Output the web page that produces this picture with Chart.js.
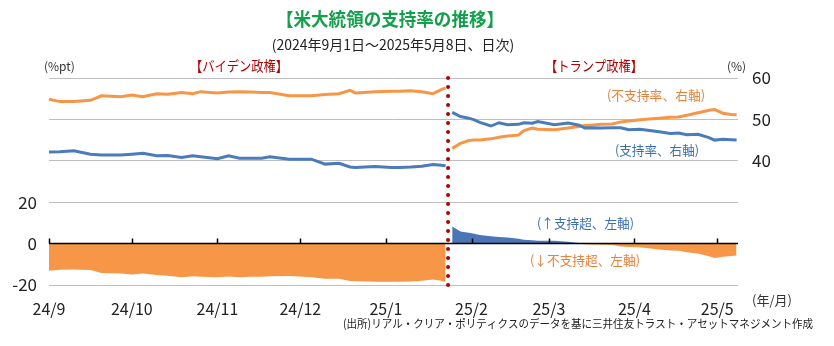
<!DOCTYPE html>
<html>
<head>
<meta charset="utf-8">
<script src="https://cdn.jsdelivr.net/npm/chart.js@4/dist/chart.umd.min.js"></script>
<style>
  html, body { margin: 0; padding: 0; background: #fff; }
  #wrap { width: 834px; height: 346px; position: relative; }
</style>
</head>
<body>
<div id="wrap"><canvas id="approvalChart"></canvas></div>
<script>
// days counted from 2024/9/1, null = break at the change of administration
const days = [0, 4, 9, 15, 19, 26, 30, 34, 39, 43, 48, 52, 55, 61, 65, 69, 73, 77, 80, 87,
    89, 95, 100, 105, 109, 111, 118, 124, 127, 131, 135, 139, 142, 143.6,
    144.5,
    146, 149, 152, 154, 156, 160, 163, 166, 170, 172, 175, 177, 183, 188, 192, 194, 196, 200, 204, 207,
    210, 214, 221, 225, 228, 231, 235, 239, 241, 244, 247, 249];

// 支持率 (%)
const support = [42.1, 42.2, 42.4, 41.6, 41.4, 41.4, 41.6, 41.8, 41.2, 41.3, 40.8, 41.2, 41.0, 40.5, 41.2, 40.6, 40.6, 40.6, 41.0, 40.4,
    40.4, 40.4, 39.2, 39.4, 38.5, 38.4, 38.6, 38.4, 38.4, 38.5, 38.7, 39.1, 38.9, 38.8,
    null,
    51.7, 50.7, 50.3, 49.9, 49.3, 48.4, 49.2, 48.7, 48.8, 49.2, 49.1, 49.5, 48.7, 49.1, 48.6, 47.9, 48.0, 47.9, 48.0, 48.0,
    47.5, 47.6, 47.0, 46.6, 46.7, 46.3, 46.4, 45.6, 45.0, 45.2, 45.1, 45.0];

// 不支持率 (%)
const disapprove = [54.9, 54.3, 54.3, 54.6, 55.7, 55.5, 55.9, 55.5, 56.2, 56.1, 56.5, 56.2, 56.7, 56.4, 56.6, 56.7, 56.6, 56.5, 56.5, 55.7,
    55.7, 55.7, 56.0, 56.2, 57.0, 56.4, 56.7, 56.8, 56.8, 56.9, 56.7, 56.2, 57.2, 57.6,
    null,
    43.0, 44.2, 44.9, 45.0, 45.0, 45.3, 45.7, 46.0, 46.2, 47.3, 47.9, 47.6, 47.5, 47.9, 48.3, 48.5, 48.6, 48.8, 48.9, 49.4,
    49.6, 49.9, 50.3, 50.5, 50.6, 51.0, 51.6, 52.2, 52.4, 51.5, 51.2, 51.1];

// 支持超/不支持超 (%pt)
const net = [-13.1, -12.6, -12.5, -12.8, -14.2, -14.4, -14.9, -14.4, -15.2, -15.5, -16.3, -15.8, -16.0, -16.2, -15.9, -16.3, -16.0, -16.0, -15.8, -15.6,
    -15.8, -16.2, -17.0, -17.0, -18.1, -18.2, -18.4, -18.4, -18.4, -18.3, -18.0, -17.3, -18.0, -18.6,
    null,
    8.3, 5.9, 5.2, 4.7, 4.2, 3.5, 3.2, 3.0, 2.4, 1.9, 1.6, 1.4, 1.4, 0.9, 0.3, -0.3, -0.4, -0.5, -0.7, -1.4,
    -1.7, -1.8, -2.9, -3.3, -3.5, -4.2, -4.8, -6.1, -6.9, -6.3, -6.0, -5.8];

const monthDays = [0, 30, 61, 91, 122, 153, 181, 212, 242];
const monthLabels = ['24/9', '24/10', '24/11', '24/12', '25/1', '25/2', '25/3', '25/4', '25/5'];
const leftTicks = [-20, 0, 20];
const rightTicks = [40, 50, 60];
const inaugurationDay = 144.5;

const FONT = '"Noto Sans CJK JP", "Noto Sans", sans-serif';
const BLUE = '#4a7cbc';
const ORANGE = '#f79646';

function pts(values) {
    return days.map(function(d, i) { return { x: d, y: values[i] }; });
}

// texts, zero axis and the dotted red line
const overlay = {
    id: 'overlay',
    afterDatasetsDraw: function(chart) {
        const ctx = chart.ctx;
        const area = chart.chartArea;
        const x = chart.scales.x;
        const yL = chart.scales.yL;
        const y0 = yL.getPixelForValue(0);

        ctx.save();
        // zero line with month tick marks
        ctx.strokeStyle = '#000';
        ctx.lineWidth = 1.5;
        ctx.beginPath();
        ctx.moveTo(area.left, y0);
        ctx.lineTo(area.right, y0);
        monthDays.forEach(function(d) {
            const px = Math.round(x.getPixelForValue(d)) + 0.5;
            ctx.moveTo(px, y0);
            ctx.lineTo(px, y0 - 5);
        });
        ctx.stroke();

        // inauguration dotted line
        const lx = x.getPixelForValue(inaugurationDay);
        ctx.strokeStyle = '#b00000';
        ctx.lineWidth = 4;
        ctx.lineCap = 'round';
        ctx.setLineDash([0, 9]);
        ctx.beginPath();
        ctx.moveTo(lx, area.top);
        ctx.lineTo(lx, area.bottom + 1);
        ctx.stroke();
        ctx.restore();
    },
    afterDraw: function(chart) {
        const ctx = chart.ctx;
        ctx.save();
        ctx.textBaseline = 'middle';

        function text(str, px, py, font, color, align, maxW) {
            ctx.font = font;
            ctx.fillStyle = color;
            ctx.textAlign = align;
            if (maxW) ctx.fillText(str, px, py, maxW); else ctx.fillText(str, px, py);
        }

        text('【米大統領の支持率の推移】', 390, 19, 'bold 18px ' + FONT, '#13a04a', 'center', 228);
        text('(2024年9月1日～2025年5月8日、日次)', 393, 45, '14px ' + FONT, '#222', 'center', 248);
        text('(%pt)', 44, 66, '12px ' + FONT, '#333', 'left');
        text('(%)', 727, 66, '12px ' + FONT, '#333', 'left');
        text('【バイデン政権】', 239, 66, '14px ' + FONT, '#b00000', 'center', 98);
        text('【トランプ政権】', 594, 66, '14px ' + FONT, '#b00000', 'center', 98);
        text('(不支持率、右軸)', 607, 95, '13px ' + FONT, '#e8803a', 'left', 98);
        text('(支持率、右軸)', 615, 150, '13px ' + FONT, '#3a6fb3', 'left', 84);
        text('(↑支持超、左軸)', 537, 223, '13px ' + FONT, '#3a6fb3', 'left', 97);
        text('(↓不支持超、左軸)', 530, 260, '13px ' + FONT, '#e8803a', 'left', 110);
        text('(年/月)', 752, 300, '13px ' + FONT, '#333', 'left');
        text('(出所)リアル・クリア・ポリティクスのデータを基に三井住友トラスト・アセットマネジメント作成',
            343, 324, '11.5px ' + FONT, '#222', 'left', 470);
        ctx.restore();
    }
};

new Chart(document.getElementById('approvalChart'), {
    type: 'line',
    data: {
        datasets: [{
            label: '支持超/不支持超',
            data: pts(net),
            yAxisID: 'yL',
            borderWidth: 0,
            borderColor: 'rgba(0,0,0,0)',
            backgroundColor: ORANGE,
            fill: { target: 'origin', above: '#4a76b8', below: ORANGE },
            pointRadius: 0,
            tension: 0,
            order: 3
        }, {
            label: '不支持率',
            data: pts(disapprove),
            yAxisID: 'yR',
            borderColor: ORANGE,
            borderWidth: 3,
            pointRadius: 0,
            tension: 0,
            fill: false,
            order: 2
        }, {
            label: '支持率',
            data: pts(support),
            yAxisID: 'yR',
            borderColor: BLUE,
            borderWidth: 3,
            pointRadius: 0,
            tension: 0,
            fill: false,
            order: 1
        }]
    },
    options: {
        responsive: true,
        maintainAspectRatio: false,
        animation: false,
        spanGaps: false,
        layout: { padding: { top: 78 } },
        plugins: {
            legend: { display: false },
            tooltip: { enabled: false }
        },
        scales: {
            x: {
                type: 'linear',
                min: 0,
                max: 249.5,
                afterBuildTicks: function(scale) {
                    scale.ticks = monthDays.map(function(d) { return { value: d }; });
                },
                afterFit: function(scale) { scale.height = 61; },
                grid: { display: false },
                border: { display: false },
                ticks: {
                    autoSkip: false,
                    maxRotation: 0,
                    padding: 6,
                    color: '#222',
                    font: { family: FONT, size: 16 },
                    callback: function(value) {
                        const i = monthDays.indexOf(value);
                        return i >= 0 ? monthLabels[i] : '';
                    }
                }
            },
            yL: {
                position: 'left',
                min: -20,
                max: 80,
                afterFit: function(scale) { scale.width = 49; },
                border: { display: false },
                grid: {
                    drawTicks: false,
                    color: function(c) { return c.tick.value === 0 ? 'rgba(0,0,0,0)' : '#bfbfbf'; },
                    lineWidth: 1
                },
                ticks: {
                    stepSize: 20,
                    padding: 12,
                    color: '#222',
                    font: { family: FONT, size: 17 },
                    callback: function(value) { return leftTicks.indexOf(value) >= 0 ? value : ''; }
                }
            },
            yR: {
                position: 'right',
                min: 10,
                max: 60,
                afterFit: function(scale) { scale.width = 96; },
                border: { display: false },
                grid: { display: false, drawTicks: false },
                ticks: {
                    stepSize: 10,
                    padding: 14,
                    color: '#222',
                    font: { family: FONT, size: 17 },
                    callback: function(value) { return rightTicks.indexOf(value) >= 0 ? value : ''; }
                }
            }
        }
    },
    plugins: [overlay]
});
</script>
</body>
</html>
